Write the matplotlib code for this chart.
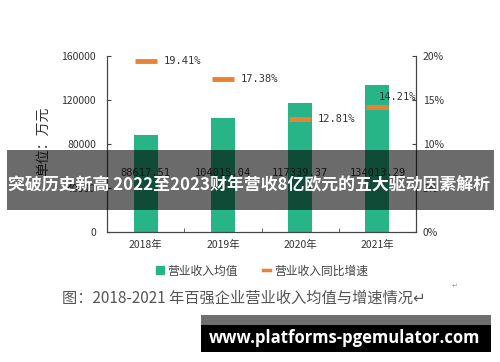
import matplotlib
matplotlib.use("Agg")
import matplotlib.pyplot as plt
from matplotlib.lines import Line2D
from matplotlib.patches import Rectangle

plt.rcParams['font.family'] = ['Noto Sans CJK SC', 'DejaVu Sans']

years = ["2018年", "2019年", "2020年", "2021年"]
revenue = [88617.51, 104015.04, 117339.37, 134013.29]
growth = [19.41, 17.38, 12.81, 14.21]
left_ticks = [0, 40000, 80000, 120000, 160000]
right_ticks = [0, 5, 10, 15, 20]

green = "#27b487"
orange = "#ea8236"
axc = "#444444"

fig = plt.figure(figsize=(5, 3.62), dpi=100)
ax = fig.add_axes([0.214, 0.359, 0.618, 0.486])
ax2 = ax.twinx()

x = list(range(len(years)))
ax.bar(x, revenue, width=0.31, color=green, zorder=2)
ax.set_xlim(-0.5, 3.5)
ax.set_ylim(0, 160000)
ax.set_yticks(left_ticks)
ax.set_yticklabels([str(v) for v in left_ticks])
ax.set_xticks(x)
ax.set_xticklabels(years)
ax.set_xticks([0.5, 1.5, 2.5], minor=True)
ax.tick_params(axis='x', which='major', length=0, pad=6, labelsize=7.5, labelcolor="#333333")
ax.tick_params(axis='x', which='minor', direction='in', length=3, color=axc)
ax.tick_params(axis='y', direction='in', length=3, color=axc, labelsize=7.5, labelcolor="#333333", pad=8)

for s in ['top']:
    ax.spines[s].set_visible(False)
    ax2.spines[s].set_visible(False)
for s in ['left', 'right', 'bottom']:
    ax.spines[s].set_color(axc)
    ax2.spines[s].set_color(axc)

for xi, v in zip(x, revenue):
    ax.text(xi, 54000, f"{v:.2f}", ha='center', va='center', fontsize=7.5,
            family='DejaVu Sans Mono', color="#333333", zorder=3)

ax2.plot(x, growth, ls='none', marker='_', ms=16, mew=3.5, color=orange, zorder=3)
ax2.set_ylim(0, 20)
ax2.set_yticks(right_ticks)
ax2.set_yticklabels([f"{v}%" for v in right_ticks])
ax2.tick_params(axis='y', direction='in', length=3, color=axc, labelsize=7.5, labelcolor="#333333", pad=5)

for i, (xi, g) in enumerate(zip(x, growth)):
    if i == len(growth) - 1:
        off = (1, 7)
    else:
        off = (13, 0)
    ax2.annotate(f"{g:.2f}%", (xi, g), xytext=off, textcoords='offset points',
                 ha='left', va='center', fontsize=7.5, family='DejaVu Sans Mono', color="#333333")

fig.text(43/500, 1-141/362, "单位：万元", rotation=90, ha='center', va='center',
         fontsize=10, color="#333333")

handles = [Line2D([], [], marker='s', ls='none', color=green, ms=6),
           Line2D([], [], color=orange, lw=2.5)]
fig.legend(handles, ["营业收入均值", "营业收入同比增速"], loc='center',
           bbox_to_anchor=(262/500, 1-271/362), ncol=2, frameon=False,
           fontsize=8.5, handlelength=0.6, handletextpad=0.3, columnspacing=2.2,
           labelcolor="#444444")

fig.text(62/500, 1-298/362, "图：2018-2021 年百强企业营业收入均值与增速情况↵",
         ha='left', va='center', fontsize=11, color="#555555",
         family=['Noto Sans CJK SC', 'DejaVu Sans'])
fig.text(455/500, 1-286/362, "↵", ha='center', va='center', fontsize=5,
         color="#999999", family=['DejaVu Sans'])

# overlay banner
fig.patches.append(Rectangle((7/500, 1-210/362), 487/500, 60/362, transform=fig.transFigure,
                             facecolor='black', alpha=0.58, edgecolor='none', zorder=10))
fig.text(249/500, 1-185/362, "突破历史新高 2022至2023财年营收8亿欧元的五大驱动因素解析",
         ha='center', va='center', fontsize=12.2, color='white', fontweight='bold', zorder=11)

# watermark
fig.patches.append(Rectangle((201/500, 1-325/362), 290/500, 10/362, transform=fig.transFigure,
                             facecolor='#6e6e6e', edgecolor='none', zorder=10))
fig.patches.append(Rectangle((201/500, 1-352/362), 290/500, 27/362, transform=fig.transFigure,
                             facecolor='black', edgecolor='none', zorder=10))
fig.text(345/500, 1-338/362, "www.platforms-pgemulator.com", ha='center', va='center',
         fontsize=12, color='white', fontweight='bold', family='Open Sans', zorder=11)

fig.savefig("out.png", dpi=100)
